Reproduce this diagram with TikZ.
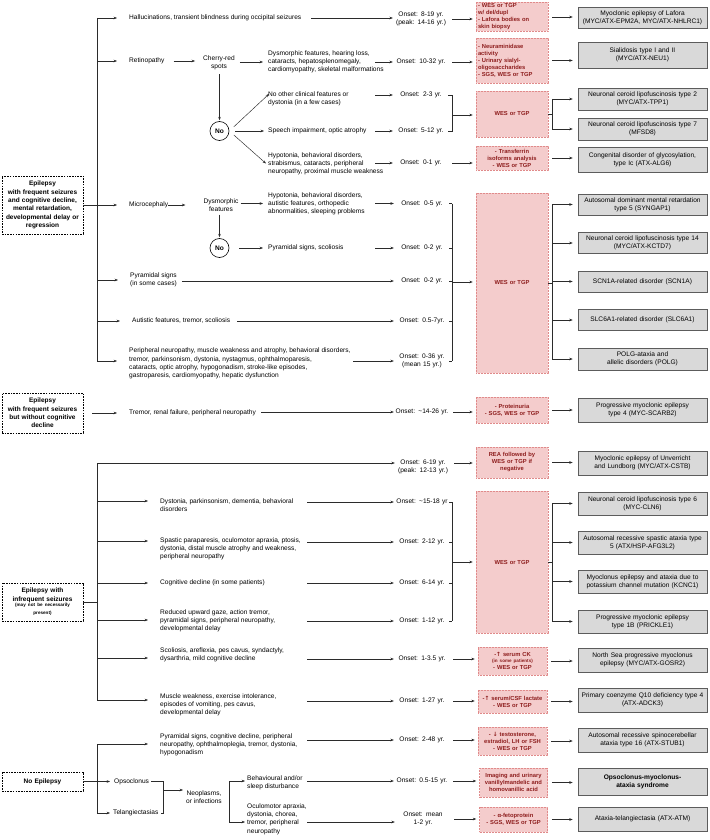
\documentclass[tikz,border=0pt]{standalone}
\usepackage{fontspec}
\setmainfont{Liberation Sans}
\newfontfamily\mysymfont{DejaVu Sans}
\usetikzlibrary{arrows.meta,calc}
\definecolor{pinkf}{HTML}{F4CCCC}
\definecolor{pinkd}{HTML}{E08A8A}
\definecolor{pinkt}{HTML}{8E1E1E}
\definecolor{grayf}{HTML}{D9D9D9}
\definecolor{grayd}{HTML}{5C5C5C}
\definecolor{linec}{HTML}{2B2B2B}
\newcommand{\myfnorm}{\fontsize{6.6}{8.2}\selectfont}
\newcommand{\myfpink}{\fontsize{5.8}{7}\selectfont\bfseries}
\newcommand{\myfleft}{\fontsize{6.5}{8.3}\selectfont\bfseries}
\newcommand{\myftiny}{\fontsize{4.6}{5.6}\selectfont}
\newcommand{\myup}{{\mysymfont ↑}}
\newcommand{\mydown}{{\mysymfont ↓}}
\tikzset{
  txt/.style={anchor=west, align=left, inner sep=0pt, font=\myfnorm},
  ctxt/.style={align=center, inner sep=0pt, font=\myfnorm},
  onset/.style={align=center, text width=54pt, inner sep=0pt, font=\myfnorm},
  lbox/.style={draw=black, line width=0.5pt, dash pattern=on 1.6pt off 1.1pt, fill=white, align=center, text width=79pt, inner sep=1pt, font=\myfleft},
  pbox/.style={fill=pinkf, draw=pinkd, line width=0.55pt, dash pattern=on 0.7pt off 0.8pt, text=pinkt, align=center, text width=68pt, minimum width=72pt, inner sep=1pt, font=\myfpink},
  pboxs/.style={pbox, text width=65pt, minimum width=69pt},
  gbox/.style={fill=grayf, draw=grayd, line width=0.7pt, align=center, text width=125pt, minimum width=129pt, inner sep=1pt, font=\myfnorm},
  nocirc/.style={circle, draw=black, line width=0.6pt, minimum size=19pt, inner sep=0pt, font=\myfnorm\bfseries},
  ln/.style={draw=linec, line width=0.45pt},
  arr/.style={ln, -{Stealth[length=3.4pt,width=2.6pt]}},
  tarr/.style={arr, shorten >=12pt},
  onarr/.style={arr, shorten >=1pt},
  oparr/.style={arr, shorten <=4pt, shorten >=3pt},
  pgarr/.style={arr, shorten <=4pt, shorten >=5pt},
  brarr/.style={arr, shorten >=5pt},
}
\begin{document}
\begin{tikzpicture}[x=1pt,y=-1pt]
\useasboundingbox (0,0) rectangle (709,840);
\fill[white] (0,0) rectangle (709,840);

% column coordinates
\coordinate (cA) at (375,0);
\coordinate (cP) at (353,0);
\coordinate (cB) at (307,0);
\coordinate (bx) at (452,0);
\coordinate (rx) at (552,0);

% ================= GROUP 1
\node[lbox, minimum height=58pt] (L1) at (42.5,205) {Epilepsy\\with frequent seizures\\and cognitive decline,\\mental retardation,\\developmental delay or\\regression};
\coordinate (ta1) at (97,18);
\coordinate (ta2) at (97,61);
\coordinate (ta3) at (97,205);
\coordinate (ta4) at (97,280);
\coordinate (ta5) at (97,321);
\coordinate (ta6) at (97,361);
\draw[ln] (ta1) -- (ta6);
\draw[ln] (L1.east) -- (ta3);
\node[txt] (hall) at (129,18) {Hallucinations, transient blindness during occipital seizures};
\node[txt] (retin) at (129,61) {Retinopathy};
\node[txt] (micro) at (129,205) {Microcephaly};
\node[txt] (pyr1) at (130,280) {Pyramidal signs\\(in some cases)};
\node[txt] (aut) at (132,321) {Autistic features, tremor, scoliosis};
\node[txt] (peri) at (129,363.5) {Peripheral neuropathy, muscle weakness and atrophy, behavioral disorders,\\tremor, parkinsonism, dystonia, nystagmus, ophthalmoparesis,\\cataracts, optic atrophy, hypogonadism, stroke-like episodes,\\gastroparesis, cardiomyopathy, hepatic dysfunction};
\foreach \cc/\nn in {ta1/hall, ta2/retin, ta3/micro, ta4/pyr1, ta5/aut, ta6/peri}
  \draw[tarr] (\cc) -- (\cc -| \nn.west);

% retinopathy branch
\node[ctxt] (cherry) at (219,63) {Cherry-red\\spots};
\draw[arr, shorten <=9pt, shorten >=8pt] (retin.east) -- (retin.east -| cherry.west);
\node[txt] (dys1) at (268,62) {Dysmorphic features, hearing loss,\\cataracts, hepatosplenomegaly,\\cardiomyopathy, skeletal malformations};
\draw[arr, shorten <=5pt, shorten >=5pt] (cherry.east |- dys1.west) -- (dys1.west);
\node[nocirc] (no1) at (219.5,131) {No};
\draw[arr, shorten <=4pt, shorten >=1pt] (cherry.south -| no1.north) -- (no1.north);
\node[txt] (nocl) at (268,99) {No other clinical features or\\dystonia (in a few cases)};
\node[txt] (speech) at (268,131) {Speech impairment, optic atrophy};
\node[txt] (hyp1) at (268,163.5) {Hypotonia, behavioral disorders,\\strabismus, cataracts, peripheral\\neuropathy, proximal muscle weakness};
\draw[arr, shorten <=6pt] (no1.east) -- ($(nocl.west)+(1,-5)$);
\draw[arr, shorten <=6pt, shorten >=4pt] (no1.east) -- (speech.west);
\draw[arr, shorten <=6pt] (no1.east) -- ($(hyp1.west)+(-2,0)$);

% onsets top
\node[onset] (on1) at (421,19) {Onset: 8-19 yr.\\(peak: 14-16 yr.)};
\draw[arr, shorten <=10pt, shorten >=1pt] (hall.east) -- (hall.east -| on1.west);
\node[pbox, align=left, minimum height=29pt] (p1) at (512,17) {- WES or TGP\\w/ del/dupl\\- Lafora bodies on\\skin biopsy};
\draw[oparr] (on1.east) -- (on1.east -| p1.west);
\node[gbox, minimum height=21pt] (g1) at (642.5,17.5) {Myoclonic epilepsy of Lafora\\(MYC/ATX-EPM2A, MYC/ATX-NHLRC1)};
\draw[pgarr] (p1.east) -- (p1.east -| g1.west);

\node[onset] (on2) at (421,62) {Onset: 10-32 yr.};
\draw[onarr] (on2.west -| cA) -- (on2.west);
\node[pbox, align=left, minimum height=45pt] (p2) at (512,60.5) {- Neuraminidase\\activity\\- Urinary sialyl-\\oligosaccharides\\- SGS, WES or TGP};
\draw[oparr] (on2.east) -- (on2.east -| p2.west);
\node[gbox, minimum height=26pt] (g2) at (642.5,55) {Sialidosis type I and II\\(MYC/ATX-NEU1)};
\draw[pgarr] (p2.east) -- (p2.east -| g2.west);

\node[onset] (on3) at (421,95) {Onset: 2-3 yr.};
\node[onset] (on4) at (421,131) {Onset: 5-12 yr.};
\draw[onarr] (on3.west -| cA) -- (on3.west);
\draw[onarr] (on4.west -| cA) -- (on4.west);
\coordinate (b1m) at (452,115);
\draw[ln] (on3.east) -- (on3.east -| bx) -- (on4.east -| bx) -- (on4.east);
\node[pbox, minimum height=46pt] (p3) at (512,114) {WES or TGP};
\draw[arr, shorten >=3pt] (b1m) -- (b1m -| p3.west);
\node[gbox, minimum height=22pt] (g3) at (642.5,99) {Neuronal ceroid lipofuscinosis type 2\\(MYC/ATX-TPP1)};
\node[gbox, minimum height=22pt] (g4) at (642.5,129) {Neuronal ceroid lipofuscinosis type 7\\(MFSD8)};
\draw[ln] (p3.east) -- (p3.east -| rx);
\draw[ln] (g3.west -| rx) -- (g4.west -| rx);
\draw[brarr] (g3.west -| rx) -- (g3.west);
\draw[brarr] (g4.west -| rx) -- (g4.west);

\node[onset] (on5) at (421,163) {Onset: 0-1 yr.};
\draw[onarr] (on5.west -| cA) -- (on5.west);
\node[pbox, minimum height=24pt] (p4) at (512,158) {- Transferrin\\isoforms analysis\\- WES or TGP};
\draw[oparr] (on5.east) -- (on5.east -| p4.west);
\node[gbox, minimum height=25pt] (g5) at (642.5,159.5) {Congenital disorder of glycosylation,\\type Ic (ATX-ALG6)};
\draw[pgarr] (p4.east) -- (p4.east -| g5.west);

% microcephaly branch
\node[ctxt] (dysm2) at (221,205) {Dysmorphic\\features};
\draw[arr, shorten >=18pt] (micro.east) -- (micro.east -| dysm2.west);
\node[txt] (hyp2) at (268,203.5) {Hypotonia, behavioral disorders,\\autistic features, orthopedic\\abnormalities, sleeping problems};
\draw[arr, shorten <=2pt, shorten >=5pt] (dysm2.east |- hyp2.west) -- (hyp2.west);
\node[nocirc] (no2) at (219.5,248) {No};
\draw[arr, shorten <=3pt, shorten >=1pt] (dysm2.south -| no2.north) -- (no2.north);
\node[txt] (pyr2) at (268,248) {Pyramidal signs, scoliosis};
\draw[arr, shorten <=10pt, shorten >=5pt] (no2.east) -- (pyr2.west);

\node[onset] (on6) at (422,203.5) {Onset: 0-5 yr.};
\node[onset] (on7) at (422,248) {Onset: 0-2 yr.};
\node[onset] (on8) at (422,281) {Onset: 0-2 yr.};
\node[onset] (on9) at (422,321) {Onset: 0.5-7yr.};
\node[onset] (on10) at (422,361) {Onset: 0-36 yr.\\(mean 15 yr.)};
\draw[onarr] (on6.west -| cA) -- (on6.west);
\draw[onarr] (on7.west -| cA) -- (on7.west);
\draw[onarr, shorten <=5pt] (on8.west -| pyr1.east) -- (on8.west);
\draw[onarr, shorten <=7pt] (on9.west -| aut.east) -- (on9.west);
\draw[onarr] (on10.west -| cP) -- (on10.west);
\coordinate (b2m) at (452,282);
\draw[ln] (on6.east -| bx) -- (on10.east -| bx);
\foreach \oo in {on6,on7,on8,on9,on10} \draw[ln] (\oo.east) -- (\oo.east -| bx);
\node[pbox, minimum height=180pt] (p5) at (512,283) {WES or TGP};
\draw[arr, shorten >=3pt] (b2m) -- (b2m -| p5.west);
\node[gbox, minimum height=21pt] (g6) at (642.5,204.5) {Autosomal dominant mental retardation\\type 5 (SYNGAP1)};
\node[gbox, minimum height=21pt] (g7) at (642.5,243) {Neuronal ceroid lipofuscinosis type 14\\(MYC/ATX-KCTD7)};
\node[gbox, minimum height=21pt] (g8) at (642.5,281.5) {SCN1A-related disorder (SCN1A)};
\node[gbox, minimum height=21pt] (g9) at (642.5,320) {SLC6A1-related disorder (SLC6A1)};
\node[gbox, minimum height=22pt] (g10) at (642.5,359) {POLG-ataxia and\\allelic disorders (POLG)};
\draw[ln] (p5.east) -- (p5.east -| rx);
\draw[ln] (g6.west -| rx) -- (g10.west -| rx);
\foreach \gg in {g6,g7,g8,g9,g10} \draw[brarr] (\gg.west -| rx) -- (\gg.west);

% ================= GROUP 2
\node[lbox, minimum height=40pt] (L2) at (42.5,413) {Epilepsy\\with frequent seizures\\but without cognitive\\decline};
\node[txt] (trem) at (129,413) {Tremor, renal failure, peripheral neuropathy};
\draw[arr, shorten <=9pt, shorten >=12pt] (L2.east) -- (L2.east -| trem.west);
\node[onset] (on11) at (422,412) {Onset: \textasciitilde14-26 yr.};
\draw[onarr, shorten <=5pt] (trem.east |- on11.west) -- (on11.west);
\node[pbox, minimum height=26pt] (p6) at (512,410) {- Proteinuria\\- SGS, WES or TGP};
\draw[oparr] (on11.east) -- (on11.east -| p6.west);
\node[gbox, minimum height=24pt] (g11) at (642.5,410) {Progressive myoclonic epilepsy\\type 4 (MYC-SCARB2)};
\draw[pgarr] (p6.east) -- (p6.east -| g11.west);

% ================= GROUP 3
\node[lbox, minimum height=38pt] (L3) at (42.5,602) {Epilepsy with\\infrequent seizures\\\myftiny (may not be necessarily\\\myftiny present)\myfleft};
\coordinate (tc0) at (97,463);
\coordinate (tc1) at (97,501);
\coordinate (tc2) at (97,541);
\coordinate (tc3) at (97,583);
\coordinate (tc4) at (97,620);
\coordinate (tc5) at (97,658);
\coordinate (tc6) at (97,700);
\node[onset] (on12) at (423,467) {Onset: 6-19 yr.\\(peak: 12-13 yr.)};
\draw[onarr] (tc6) -- (tc0) -- (tc0 -| on12.west);
\draw[ln] (L3.east) -- (L3.east -| tc0);
\node[txt] (dyst) at (160,505) {Dystonia, parkinsonism, dementia, behavioral\\disorders};
\node[txt] (spast) at (160,548.5) {Spastic paraparesis, oculomotor apraxia, ptosis,\\dystonia, distal muscle atrophy and weakness,\\peripheral neuropathy};
\node[txt] (cogn) at (160,583) {Cognitive decline (in some patients)};
\node[txt] (reduc) at (160,621) {Reduced upward gaze, action tremor,\\pyramidal signs, peripheral neuropathy,\\developmental delay};
\node[txt] (scol) at (160,655) {Scoliosis, areflexia, pes cavus, syndactyly,\\dysarthria, mild cognitive decline};
\node[txt] (musc) at (160,705) {Muscle weakness, exercise intolerance,\\episodes of vomiting, pes cavus,\\developmental delay};
\foreach \cc/\nn in {tc1/dyst, tc2/spast, tc3/cogn, tc4/reduc, tc5/scol, tc6/musc}
  \draw[tarr] (\cc) -- (\cc -| \nn.west);

\node[onset] (on13) at (422,502) {Onset: \textasciitilde15-18 yr};
\node[onset] (on14) at (422,542) {Onset: 2-12 yr.};
\node[onset] (on15) at (422,583) {Onset: 6-14 yr.};
\node[onset] (on16) at (422,621) {Onset: 1-12 yr.};
\node[onset] (on17) at (422,659) {Onset: 1-3.5 yr.};
\node[onset] (on18) at (422,701) {Onset: 1-27 yr.};
\foreach \oo in {on13,on14,on15,on16,on17,on18} \draw[onarr] (\oo.west -| cB) -- (\oo.west);

\coordinate (o12) at (on12.east |- tc0);
\node[pbox, minimum height=31pt] (p7) at (512,462.5) {REA followed by\\WES or TGP if\\negative};
\draw[oparr] (o12) -- (o12 -| p7.west);
\node[gbox, minimum height=24pt] (g12) at (642.5,463) {Myoclonic epilepsy of Unverricht\\and Lundborg (MYC/ATX-CSTB)};
\draw[pgarr] (p7.east) -- (p7.east -| g12.west);

\coordinate (b3m) at (452,562);
\draw[ln] (on13.east -| bx) -- (on16.east -| bx);
\foreach \oo in {on13,on14,on15,on16} \draw[ln] (\oo.east) -- (\oo.east -| bx);
\node[pbox, minimum height=142pt] (p8) at (512,562) {WES or TGP};
\draw[arr, shorten >=3pt] (b3m) -- (b3m -| p8.west);
\node[gbox, minimum height=23pt] (g13) at (642.5,503.5) {Neuronal ceroid lipofuscinosis type 6\\(MYC-CLN6)};
\node[gbox, minimum height=23pt] (g14) at (642.5,542.5) {Autosomal recessive spastic ataxia type\\5 (ATX/HSP-AFG3L2)};
\node[gbox, minimum height=23pt] (g15) at (642.5,581.5) {Myoclonus epilepsy and ataxia due to\\potassium channel mutation (KCNC1)};
\node[gbox, minimum height=23pt] (g16) at (642.5,621.5) {Progressive myoclonic epilepsy\\type 1B (PRICKLE1)};
\draw[ln] (p8.east) -- (p8.east -| rx);
\draw[ln] (g13.west -| rx) -- (g16.west -| rx);
\foreach \gg in {g13,g14,g15,g16} \draw[brarr] (\gg.west -| rx) -- (\gg.west);

\node[pboxs, minimum height=28pt] (p9) at (512.5,661) {-\myup{} serum CK\\\myftiny (in some patients)\\\myfpink - WES or TGP};
\draw[oparr] (on17.east) -- (on17.east -| p9.west);
\node[gbox, minimum height=24pt] (g17) at (642.5,660) {North Sea progressive myoclonus\\epilepsy (MYC/ATX-GOSR2)};
\draw[pgarr] (p9.east) -- (p9.east -| g17.west);

\node[pboxs, minimum height=23pt] (p10) at (512.5,701.5) {-\myup{} serum/CSF lactate\\- WES or TGP};
\draw[oparr] (on18.east) -- (on18.east -| p10.west);
\node[gbox, minimum height=24pt] (g18) at (642.5,700) {Primary coenzyme Q10 deficiency type 4\\(ATX-ADCK3)};
\draw[pgarr] (p10.east) -- (p10.east -| g18.west);

% ================= GROUP 4
\node[lbox, minimum height=19pt] (L4) at (42.5,781.5) {No Epilepsy};
\coordinate (td1) at (97,744);
\coordinate (td2) at (97,781.5);
\coordinate (td3) at (97,813);
\draw[ln] (td1) -- (td3);
\draw[ln] (L4.east) -- (td2);
\node[txt] (pyr3) at (160,745) {Pyramidal signs, cognitive decline, peripheral\\neuropathy, ophthalmoplegia, tremor, dystonia,\\hypogonadism};
\draw[tarr] (td1) -- (td1 -| pyr3.west);
\node[txt] (opso) at (114,781.5) {Opsoclonus};
\draw[arr, shorten >=4pt] (td2) -- (opso.west);
\node[txt] (tela) at (113,813) {Telangiectasias};
\draw[arr, shorten >=3pt] (td3) -- (tela.west);

\coordinate (k1t) at (163,781.5);
\coordinate (k1b) at (163,813);
\coordinate (k1m) at (163,790);
\draw[ln] ([xshift=2pt]opso.east) -- (k1t) -- (k1b) -- ([xshift=2pt]tela.east);
\node[ctxt] (neo) at (204,797.5) {Neoplasms,\\or infections};
\draw[arr, shorten >=3pt] (k1m) -- (k1m -| neo.west);

\coordinate (k2t) at (229,781);
\coordinate (k2b) at (229,822);
\draw[ln] (k2t) -- (k2b);
\node[txt] (behav) at (247,783) {Behavioural and/or\\sleep disturbance};
\node[txt] (ocul) at (247,819) {Oculomotor apraxia,\\dystonia, chorea,\\tremor, peripheral\\neuropathy};
\draw[arr, shorten >=2pt] (k2t) -- (k2t -| behav.west);
\draw[arr, shorten >=2pt] (k2b) -- (k2b -| ocul.west);

\node[onset] (on19) at (422,740) {Onset: 2-48 yr.};
\draw[onarr] (on19.west -| cB) -- (on19.west);
\node[onset] (on20) at (422,781) {Onset: 0.5-15 yr.};
\draw[onarr] (on20.west -| cB) -- (on20.west);
\node[onset] (on21) at (423,819) {Onset: mean\\1-2 yr.};
\draw[onarr] (k2b -| cB) -- (k2b -| on21.west);

\node[pboxs, minimum height=28pt] (p11) at (512.5,741) {- \mydown{} testosterone,\\estradiol, LH or FSH\\- WES or TGP};
\draw[oparr] (on19.east) -- (on19.east -| p11.west);
\node[gbox, minimum height=24pt] (g19) at (642.5,740) {Autosomal recessive spinocerebellar\\ataxia type 16 (ATX-STUB1)};
\draw[pgarr] (p11.east) -- (p11.east -| g19.west);

\node[pboxs, text width=64pt, minimum width=68pt, minimum height=29pt] (p12) at (513.5,782.5) {Imaging and urinary\\vanillylmandelic and\\homovanillic acid};
\draw[oparr] (on20.east) -- (on20.east -| p12.west);
\node[gbox, minimum height=27pt, font=\myfnorm\bfseries] (g20) at (642.5,781.5) {Opsoclonus-myoclonus-\\ataxia syndrome};
\draw[pgarr] (p12.east) -- (p12.east -| g20.west);

\node[pboxs, text width=64pt, minimum width=68pt, minimum height=25pt] (p13) at (513.5,819.5) {- α-fetoprotein\\- SGS, WES or TGP};
\draw[oparr] (on21.east) -- (on21.east -| p13.west);
\node[gbox, minimum height=24pt] (g21) at (642.5,819) {Ataxia-telangiectasia (ATX-ATM)};
\draw[pgarr] (p13.east) -- (p13.east -| g21.west);
\end{tikzpicture}
\end{document}
